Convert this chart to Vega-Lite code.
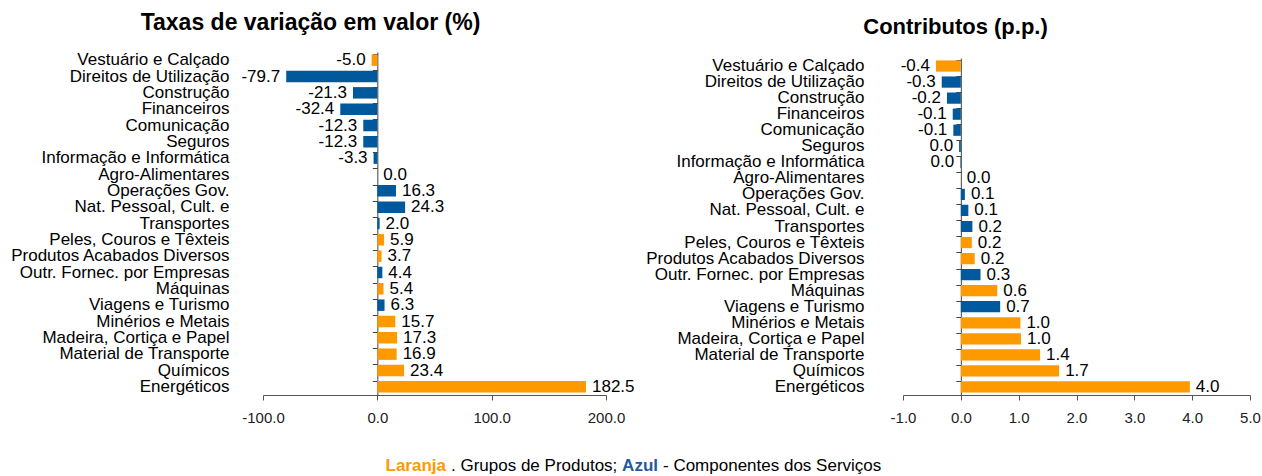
{
  "$schema": "https://vega.github.io/schema/vega-lite/v6.json",
  "background": "white",
  "padding": {"left": 9, "top": 11, "right": 5, "bottom": 5},
  "datasets": {
    "rows": [
      {"cat": "Vestuário e Calçado", "tipo": "Produtos", "taxa": -5.0, "contrib": -0.43},
      {"cat": "Direitos de Utilização", "tipo": "Serviços", "taxa": -79.7, "contrib": -0.33},
      {"cat": "Construção", "tipo": "Serviços", "taxa": -21.3, "contrib": -0.24},
      {"cat": "Financeiros", "tipo": "Serviços", "taxa": -32.4, "contrib": -0.14},
      {"cat": "Comunicação", "tipo": "Serviços", "taxa": -12.3, "contrib": -0.13},
      {"cat": "Seguros", "tipo": "Serviços", "taxa": -12.3, "contrib": -0.03},
      {"cat": "Informação e Informática", "tipo": "Serviços", "taxa": -3.3, "contrib": -0.01},
      {"cat": "Agro-Alimentares", "tipo": "Produtos", "taxa": 0.0, "contrib": 0.0},
      {"cat": "Operações Gov.", "tipo": "Serviços", "taxa": 16.3, "contrib": 0.07},
      {"cat": "Nat. Pessoal, Cult. e", "tipo": "Serviços", "taxa": 24.3, "contrib": 0.13},
      {"cat": "Transportes", "tipo": "Serviços", "taxa": 2.0, "contrib": 0.2},
      {"cat": "Peles, Couros e Têxteis", "tipo": "Produtos", "taxa": 5.9, "contrib": 0.19},
      {"cat": "Produtos Acabados Diversos", "tipo": "Produtos", "taxa": 3.7, "contrib": 0.24},
      {"cat": "Outr. Fornec. por Empresas", "tipo": "Serviços", "taxa": 4.4, "contrib": 0.34},
      {"cat": "Máquinas", "tipo": "Produtos", "taxa": 5.4, "contrib": 0.63},
      {"cat": "Viagens e Turismo", "tipo": "Serviços", "taxa": 6.3, "contrib": 0.68},
      {"cat": "Minérios e Metais", "tipo": "Produtos", "taxa": 15.7, "contrib": 1.03},
      {"cat": "Madeira, Cortiça e Papel", "tipo": "Produtos", "taxa": 17.3, "contrib": 1.04},
      {"cat": "Material de Transporte", "tipo": "Produtos", "taxa": 16.9, "contrib": 1.37},
      {"cat": "Químicos", "tipo": "Produtos", "taxa": 23.4, "contrib": 1.7},
      {"cat": "Energéticos", "tipo": "Produtos", "taxa": 182.5, "contrib": 3.96}
    ],
    "nota": [
      {"parte": "Laranja", "ordem": 1},
      {"parte": ". Grupos de Produtos;", "ordem": 2},
      {"parte": "Azul", "ordem": 3},
      {"parte": "- Componentes dos Serviços", "ordem": 4}
    ]
  },
  "vconcat": [
    {
      "hconcat": [
        {
          "width": 343,
          "height": 343,
          "data": {"name": "rows"},
          "title": {"text": "Taxas de variação em valor (%)", "fontSize": 23, "fontWeight": "bold", "font": "Liberation Sans", "color": "#000", "dx": -124, "offset": 16},
          "encoding": {
            "y": {"field": "cat", "type": "nominal", "sort": null, "scale": {"paddingInner": 0.3, "paddingOuter": 0.15}},
            "x": {"field": "taxa", "type": "quantitative", "scale": {"domain": [-100, 200], "nice": false}}
          },
          "layer": [
            {
              "mark": {"type": "bar"},
              "encoding": {
                "y": {"field": "cat", "type": "nominal", "sort": null, "axis": {"orient": "left", "title": null, "domain": false, "ticks": false, "tickSize": 0, "labelPadding": 34, "labelFont": "Liberation Sans", "labelFontSize": 17, "labelColor": "#000", "labelLimit": 400}},
                "x": {"field": "taxa", "type": "quantitative", "axis": {"title": null, "values": [-100, 0, 100, 200], "format": ".1f", "grid": false, "labelFlush": false, "domainColor": "#555", "tickColor": "#555", "tickSize": 5, "labelPadding": 10, "labelFont": "Liberation Sans", "labelFontSize": 15, "labelColor": "#222"}},
                "color": {"field": "tipo", "type": "nominal", "scale": {"domain": ["Produtos", "Serviços"], "range": ["#FF9900", "#00599C"]}, "legend": null}
              }
            },
            {
              "transform": [{"filter": "datum.taxa >= 0"}],
              "mark": {"type": "text", "align": "left", "baseline": "middle", "dx": 6, "font": "Liberation Sans", "fontSize": 17, "color": "#000"},
              "encoding": {
                "y": {"field": "cat", "type": "nominal", "sort": null, "axis": null},
                "text": {"field": "taxa", "type": "quantitative", "format": ".1f"}
              }
            },
            {
              "transform": [{"filter": "datum.taxa < 0"}],
              "mark": {"type": "text", "align": "right", "baseline": "middle", "dx": -6, "font": "Liberation Sans", "fontSize": 17, "color": "#000"},
              "encoding": {
                "y": {"field": "cat", "type": "nominal", "sort": null, "axis": {"orient": "left", "title": null, "offset": -114.33, "labels": false, "domain": true, "ticks": true, "tickSize": 5, "bandPosition": 0, "domainColor": "#444", "tickColor": "#444"}},
                "text": {"field": "taxa", "type": "quantitative", "format": ".1f"}
              }
            }
          ],
          "resolve": {"axis": {"y": "independent"}}
        },
        {
          "width": 347,
          "height": 343,
          "data": {"name": "rows"},
          "title": {"text": "Contributos (p.p.)", "fontSize": 22, "fontWeight": "bold", "font": "Liberation Sans", "color": "#000", "dx": -121, "dy": 4, "offset": 17},
          "encoding": {
            "y": {"field": "cat", "type": "nominal", "sort": null, "scale": {"paddingInner": 0.3, "paddingOuter": 0.15, "range": [6, 343]}},
            "x": {"field": "contrib", "type": "quantitative", "scale": {"domain": [-1, 5], "nice": false}}
          },
          "layer": [
            {
              "mark": {"type": "bar"},
              "encoding": {
                "y": {"field": "cat", "type": "nominal", "sort": null, "axis": {"orient": "left", "title": null, "domain": false, "ticks": false, "tickSize": 0, "labelPadding": 39, "labelFont": "Liberation Sans", "labelFontSize": 17, "labelColor": "#000", "labelLimit": 400}},
                "x": {"field": "contrib", "type": "quantitative", "axis": {"title": null, "values": [-1, 0, 1, 2, 3, 4, 5], "format": ".1f", "grid": false, "labelFlush": false, "domainColor": "#555", "tickColor": "#555", "tickSize": 5, "labelPadding": 10, "labelFont": "Liberation Sans", "labelFontSize": 15, "labelColor": "#222"}},
                "color": {"field": "tipo", "type": "nominal", "scale": {"domain": ["Produtos", "Serviços"], "range": ["#FF9900", "#00599C"]}, "legend": null}
              }
            },
            {
              "transform": [{"filter": "datum.contrib >= 0"}],
              "mark": {"type": "text", "align": "left", "baseline": "middle", "dx": 6, "font": "Liberation Sans", "fontSize": 17, "color": "#000"},
              "encoding": {
                "y": {"field": "cat", "type": "nominal", "sort": null, "axis": null},
                "text": {"field": "contrib", "type": "quantitative", "format": ".1f"}
              }
            },
            {
              "transform": [{"filter": "datum.contrib < 0"}],
              "mark": {"type": "text", "align": "right", "baseline": "middle", "dx": -6, "font": "Liberation Sans", "fontSize": 17, "color": "#000"},
              "encoding": {
                "y": {"field": "cat", "type": "nominal", "sort": null, "axis": {"orient": "left", "title": null, "offset": -57.83, "labels": false, "domain": true, "ticks": true, "tickSize": 5, "bandPosition": 0, "domainColor": "#444", "tickColor": "#444"}},
                "text": {"field": "contrib", "type": "quantitative", "format": ".1f"}
              }
            }
          ],
          "resolve": {"axis": {"y": "independent"}}
        }
      ],
      "spacing": 9
    },
    {
      "width": 700,
      "height": 20,
      "data": {"name": "nota"},
      "layer": [
        {
          "transform": [{"filter": "datum.ordem == 1"}],
          "mark": {"type": "text", "align": "right", "baseline": "middle", "x": 183, "y": 10, "font": "Liberation Sans", "fontSize": 17, "fontWeight": "bold", "color": "#FF9900"},
          "encoding": {"text": {"field": "parte"}}
        },
        {
          "transform": [{"filter": "datum.ordem == 2"}],
          "mark": {"type": "text", "align": "left", "baseline": "middle", "x": 188, "y": 10, "font": "Liberation Sans", "fontSize": 17, "color": "#000"},
          "encoding": {"text": {"field": "parte"}}
        },
        {
          "transform": [{"filter": "datum.ordem == 3"}],
          "mark": {"type": "text", "align": "right", "baseline": "middle", "x": 395, "y": 10, "font": "Liberation Sans", "fontSize": 17, "fontWeight": "bold", "color": "#1F5C9E"},
          "encoding": {"text": {"field": "parte"}}
        },
        {
          "transform": [{"filter": "datum.ordem == 4"}],
          "mark": {"type": "text", "align": "left", "baseline": "middle", "x": 400, "y": 10, "font": "Liberation Sans", "fontSize": 17, "color": "#000"},
          "encoding": {"text": {"field": "parte"}}
        }
      ]
    }
  ],
  "spacing": 31,
  "config": {
    "view": {"stroke": null},
    "font": "Liberation Sans",
    "locale": {"number": {"decimal": ".", "thousands": ",", "grouping": [3], "currency": ["", ""], "minus": "-"}}
  }
}
